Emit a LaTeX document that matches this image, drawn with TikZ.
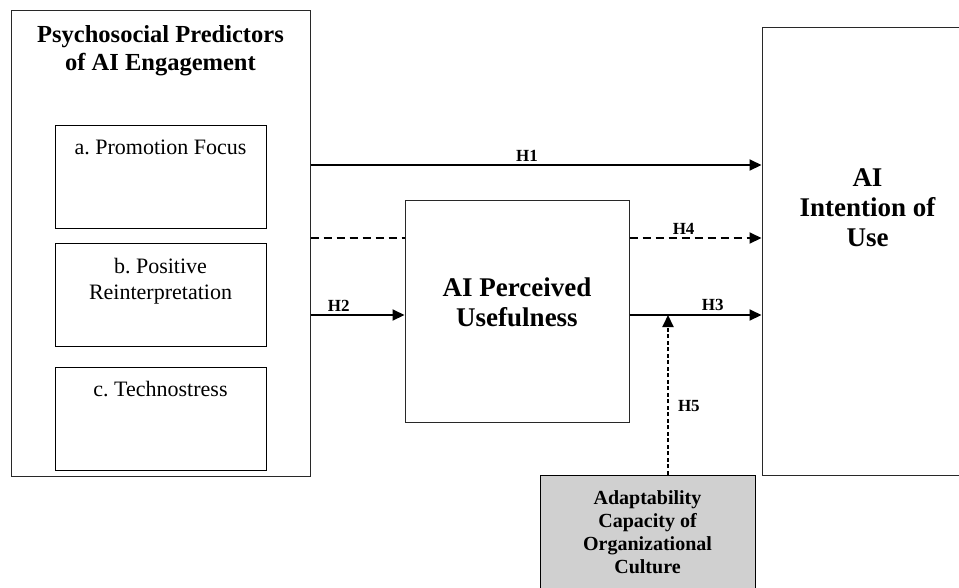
\documentclass[tikz,border=0pt]{standalone}
\usepackage{fontspec}
\setmainfont{Liberation Serif}
\usepackage{tikz}
\usetikzlibrary{positioning,arrows.meta}
\definecolor{BoxLine}{RGB}{40,40,40}
\definecolor{ModGray}{RGB}{208,208,208}
\frenchspacing

\begin{document}
\begin{tikzpicture}[
    x=1pt, y=-1pt,
    outerbox/.style={rectangle, draw=BoxLine, line width=1pt, inner sep=0pt},
    itembox/.style={rectangle, draw=black, line width=1pt, inner sep=0pt,
        minimum width=211pt, minimum height=103pt},
    bigtext/.style={font=\fontsize{27}{30}\selectfont\bfseries, align=center},
    itemtext/.style={font=\fontsize{22}{26}\selectfont, align=center},
    modbox/.style={rectangle, draw=black, line width=1pt, fill=ModGray,
        minimum width=215pt, minimum height=115pt, align=center,
        font=\fontsize{20}{23}\selectfont\bfseries},
    arrow/.style={line width=2pt, -{Triangle[length=12pt,width=11pt]}},
    dasharrow/.style={arrow, dash pattern=on 8pt off 5pt},
    hlabel/.style={font=\fontsize{17}{19}\selectfont\bfseries, inner sep=3pt},
]
\clip (0,0) rectangle (959,587);

% predictors
\node[outerbox, minimum width=299pt, minimum height=466pt] (pred) at (160.5,243) {};
\node[font=\fontsize{24.5}{28}\selectfont\bfseries, align=center, below=12pt of pred.north]
    (predtitle) {Psychosocial Predictors\\of AI Engagement};
\node[itembox, label={[itemtext, anchor=north, yshift=-12pt]north:a. Promotion Focus}]
    (promo) at (160.5,176.5) {};
\node[itembox, below=14pt of promo,
    label={[itemtext, anchor=north, yshift=-12pt]north:b. Positive\\Reinterpretation}]
    (reint) {};
\node[itembox, below=20pt of reint,
    label={[itemtext, anchor=north, yshift=-11pt]north:c. Technostress}]
    (techno) {};

% mediator, outcome, moderator
\node[outerbox, minimum width=224pt, minimum height=222pt] (useful) at (517,311) {};
\node[bigtext] (usefultext) at (517,302) {AI Perceived\\Usefulness};
\node[outerbox, minimum width=211pt, minimum height=448pt,
    label={[bigtext, anchor=north, yshift=-139pt]north:AI\\Intention of\\Use}]
    (intent) at (867.5,251) {};
\node[modbox] (adapt) at (647.5,532.5) {Adaptability\\Capacity of\\Organizational\\Culture};

% paths
\draw[arrow] ([yshift=78pt]pred.east) -- ([yshift=78pt]pred.east -| intent.west)
    node[hlabel, above, pos=0.48] {H1};
\draw[line width=2pt, dash pattern=on 8pt off 5pt]
    ([yshift=73pt]useful.west -| pred.east) -- ([yshift=73pt]useful.west);
\draw[dasharrow] ([yshift=73pt]useful.east) -- ([yshift=73pt]useful.east -| intent.west)
    node[hlabel, above, pos=0.41] {H4};
\draw[arrow] ([yshift=-4pt]useful.west -| pred.east) -- ([yshift=-4pt]useful.west)
    node[hlabel, above, pos=0.3] {H2};
\coordinate (h3start) at ([yshift=-4pt]useful.east);
\draw[arrow] (h3start) -- (h3start -| intent.west)
    node[hlabel, above, pos=0.63] {H3};
\draw[arrow, dash pattern=on 4pt off 2.5pt] ([xshift=20.5pt]adapt.north)
    -- ([xshift=20.5pt]adapt.north |- h3start)
    node[hlabel, right=6pt, pos=0.43] {H5};
\end{tikzpicture}
\end{document}
